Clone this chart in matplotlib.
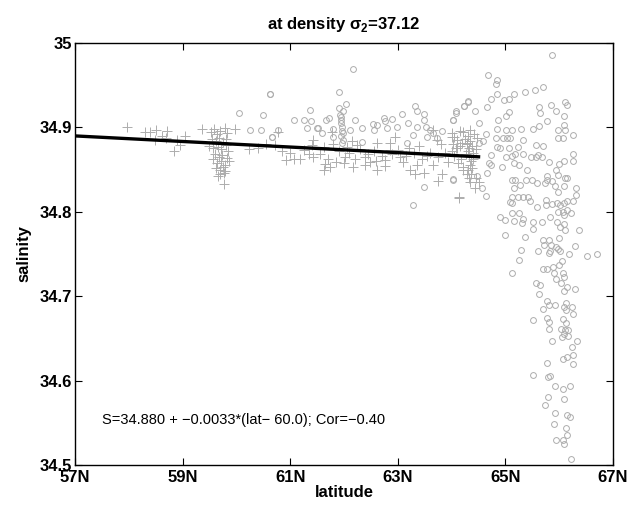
import numpy as np
import matplotlib.pyplot as plt

plt.rcParams['font.family'] = ['Liberation Sans', 'DejaVu Sans']
plt.rcParams['mathtext.fontset'] = 'custom'
plt.rcParams['mathtext.rm'] = 'Liberation Sans'
plt.rcParams['mathtext.bf'] = 'Liberation Sans:bold'

# '+' samples (south of the front)
plus_lat = [
    57.96, 58.30, 58.39, 58.51, 58.72, 58.61, 58.49, 58.69, 58.89, 59.04, 58.85, 58.95,
    59.37, 59.97, 60.24, 60.72, 59.77,
    59.52, 59.58, 59.64, 59.70, 59.78, 59.83, 59.55, 59.62, 59.68, 59.75, 59.81, 59.50,
    59.57, 59.65, 59.72, 59.80, 59.85, 59.60, 59.67, 59.74, 59.82, 59.56, 59.64, 59.71,
    59.78, 59.86, 59.62, 59.69, 59.75, 59.70, 59.77, 59.66, 59.79,
    60.78, 61.43, 61.40, 60.93, 61.07, 61.18, 61.43, 61.62, 61.77, 61.80, 61.65, 61.74,
    61.62, 61.86, 62.02, 62.17, 62.05, 62.24, 62.39, 62.39, 62.48, 62.61, 62.62, 62.76,
    62.76, 62.86, 62.95, 63.04, 63.10, 63.21, 63.23, 63.32, 63.35, 63.48, 63.54, 63.66,
    63.72, 63.75, 63.82, 63.94, 64.00, 64.10, 64.16, 64.14, 64.22, 64.28,
    61.00, 61.25, 61.55, 61.90, 62.10, 62.30, 62.45, 62.55, 62.70, 62.90, 63.00, 63.15,
    63.30, 63.45, 63.60, 63.75, 63.88, 62.00, 62.20, 62.60, 63.40, 63.65, 63.80, 62.85,
    62.15, 61.70, 61.35, 60.85, 60.55, 60.40,
    64.00, 64.05, 64.10, 64.02, 64.08, 64.15, 64.20, 64.25, 64.30, 64.35, 64.38, 64.30,
    64.33, 64.36, 64.40, 64.45, 64.28, 64.32, 64.34, 64.30, 64.36, 64.32, 64.34, 64.29,
    64.38, 64.40, 64.12, 64.05, 64.18, 64.22, 64.45, 64.50, 64.43, 64.14, 64.00, 64.26,
    64.41, 64.48, 64.22, 64.35,
]
plus_sal = [
    34.901, 34.895, 34.894, 34.897, 34.896, 34.890, 34.885, 34.888, 34.885, 34.890, 34.872, 34.879,
    34.898, 34.898, 34.874, 34.879, 34.833,
    34.895, 34.898, 34.892, 34.896, 34.899, 34.893, 34.886, 34.884, 34.887, 34.883, 34.886, 34.878,
    34.875, 34.877, 34.874, 34.879, 34.872, 34.868, 34.865, 34.867, 34.864, 34.862, 34.858, 34.860,
    34.856, 34.860, 34.852, 34.850, 34.853, 34.845, 34.846, 34.842, 34.848,
    34.895, 34.885, 34.879, 34.861, 34.862, 34.862, 34.865, 34.877, 34.895, 34.880, 34.857, 34.853,
    34.850, 34.859, 34.865, 34.853, 34.877, 34.879, 34.865, 34.855, 34.859, 34.881, 34.850, 34.861,
    34.854, 34.873, 34.889, 34.865, 34.859, 34.875, 34.850, 34.845, 34.855, 34.846, 34.866, 34.897,
    34.885, 34.836, 34.845, 34.859, 34.889, 34.875, 34.896, 34.816, 34.853, 34.881,
    34.870, 34.873, 34.868, 34.872, 34.870, 34.874, 34.868, 34.872, 34.866, 34.868, 34.873, 34.866,
    34.870, 34.862, 34.870, 34.865, 34.870, 34.858, 34.862, 34.860, 34.878, 34.855, 34.880, 34.882,
    34.884, 34.862, 34.868, 34.872, 34.880, 34.876,
    34.893, 34.889, 34.885, 34.880, 34.875, 34.878, 34.882, 34.886, 34.890, 34.884, 34.878, 34.872,
    34.866, 34.860, 34.870, 34.874, 34.880, 34.876, 34.855, 34.850, 34.845, 34.840, 34.835, 34.845,
    34.852, 34.862, 34.858, 34.866, 34.862, 34.850, 34.840, 34.835, 34.828, 34.818, 34.872, 34.868,
    34.892, 34.888, 34.895, 34.897,
]

# 'o' samples
circ_lat = [
    60.62, 60.04, 60.49, 60.25, 60.46, 60.67, 60.77,
    60.63, 62.16, 61.91, 62.04, 61.36, 61.91, 61.99, 61.07, 61.26, 61.39, 61.67, 61.72,
    61.94, 62.21, 61.31, 61.49, 61.52, 61.60, 61.79, 61.96, 61.98, 61.99, 62.12, 62.33,
    62.53, 62.61, 62.55, 62.74, 62.76, 62.79, 62.90, 62.99, 63.07, 63.18, 63.32, 63.35,
    63.49, 63.49, 63.36, 63.52, 63.59, 63.66, 63.72, 63.82, 64.02, 64.08, 64.23, 64.31,
    60.67, 61.80, 62.33, 63.29, 63.49, 63.28, 64.02, 63.17, 63.54,
    61.93, 61.95, 61.94, 61.96, 61.95, 61.97,
    65.86, 64.67, 64.84, 64.82, 64.84, 64.74, 64.97, 65.07, 65.16, 65.36, 65.55, 65.69,
    64.30, 64.23, 64.09, 64.44, 64.02, 64.65, 65.07, 65.01, 64.86, 64.50, 64.64, 64.84,
    65.01, 65.12, 65.28, 64.96, 65.02, 65.09, 64.83, 64.58, 64.50, 65.51, 65.63, 65.77,
    65.84, 65.62, 65.65, 65.94, 66.11, 66.14, 66.08, 66.08, 65.97, 66.11, 65.98, 66.06,
    66.25, 65.32, 64.84, 64.90, 65.07, 65.24, 65.32, 65.18, 65.13, 65.01, 64.74, 64.70,
    64.74, 64.93, 65.16, 65.26, 65.40, 65.47, 65.57, 65.61, 65.70, 65.67, 65.57, 65.80,
    66.00, 66.08, 66.25, 66.25, 65.94, 65.98, 66.11, 66.15, 65.77, 65.77, 65.12, 65.18,
    65.15, 65.27, 65.38, 65.49, 65.59, 65.74, 65.86, 65.92, 65.97, 66.08, 66.31, 66.31,
    66.25, 66.15, 66.08, 66.01, 65.95, 65.86, 65.75, 65.75, 65.41, 65.32, 65.24, 65.13,
    65.09, 65.13, 65.46, 64.64, 64.56, 64.48, 64.66, 64.02, 65.58, 65.98, 66.06, 66.14,
    66.21, 66.08, 64.90, 64.99, 65.12, 65.26, 65.32, 65.30, 65.16, 65.52, 65.67, 65.83,
    65.95, 66.08,
    64.99, 65.36, 65.51, 65.28, 65.61, 65.26, 65.12, 65.70, 65.80, 65.72, 65.84, 65.80,
    65.82, 65.94, 66.01, 65.97, 66.18, 66.30, 66.52, 66.36, 66.11, 66.01, 65.99, 66.05,
    66.00, 65.89, 65.69, 65.78, 65.90, 66.06, 66.08, 65.93, 66.03, 66.14, 66.08, 66.29,
    65.57, 65.64, 65.63, 65.77, 65.69, 65.80, 65.92, 66.13, 66.08, 66.13, 66.23, 66.25,
    65.52, 65.77, 65.80, 65.80, 66.06, 66.13, 66.03, 66.11, 66.17, 66.08, 66.05, 66.17,
    65.87, 66.32, 66.24, 66.25, 66.06, 66.14, 66.25, 65.78, 65.52, 65.79, 65.83, 65.92,
    66.06, 66.20, 65.79, 65.74, 66.08, 65.92, 66.14, 66.20, 65.90, 66.13, 66.14, 65.94,
    66.06, 66.08, 66.21, 66.70,
]
circ_sal = [
    34.939, 34.917, 34.915, 34.897, 34.897, 34.889, 34.897,
    34.939, 34.969, 34.942, 34.928, 34.921, 34.923, 34.919, 34.909, 34.909, 34.907, 34.909, 34.911,
    34.909, 34.909, 34.899, 34.899, 34.899, 34.893, 34.898, 34.901, 34.893, 34.885, 34.897, 34.899,
    34.904, 34.903, 34.897, 34.911, 34.907, 34.899, 34.910, 34.900, 34.916, 34.905, 34.925, 34.920,
    34.916, 34.909, 34.900, 34.901, 34.897, 34.893, 34.887, 34.896, 34.909, 34.919, 34.925, 34.931,
    34.889, 34.889, 34.883, 34.891, 34.829, 34.808, 34.839, 34.881, 34.889,
    34.915, 34.912, 34.905, 34.896, 34.890, 34.882,
    34.986, 34.962, 34.956, 34.952, 34.940, 34.934, 34.932, 34.934, 34.939, 34.942, 34.944, 34.948,
    34.930, 34.925, 34.917, 34.919, 34.909, 34.924, 34.918, 34.913, 34.909, 34.905, 34.892, 34.898,
    34.897, 34.897, 34.898, 34.888, 34.888, 34.888, 34.888, 34.884, 34.881, 34.898, 34.902, 34.907,
    34.926, 34.924, 34.917, 34.919, 34.930, 34.926, 34.914, 34.903, 34.897, 34.897, 34.887, 34.887,
    34.891, 34.885, 34.877, 34.875, 34.876, 34.877, 34.869, 34.869, 34.866, 34.865, 34.867, 34.858,
    34.855, 34.853, 34.858, 34.855, 34.850, 34.865, 34.879, 34.867, 34.878, 34.865, 34.865, 34.859,
    34.857, 34.860, 34.869, 34.860, 34.850, 34.844, 34.840, 34.840, 34.842, 34.838, 34.838, 34.838,
    34.828, 34.832, 34.838, 34.838, 34.834, 34.834, 34.836, 34.830, 34.823, 34.830, 34.828, 34.820,
    34.813, 34.813, 34.810, 34.808, 34.810, 34.809, 34.814, 34.808, 34.818, 34.818, 34.818, 34.818,
    34.812, 34.810, 34.813, 34.819, 34.828, 34.842, 34.846, 34.838, 34.806, 34.800, 34.800, 34.802,
    34.798, 34.796, 34.794, 34.790, 34.799, 34.799, 34.792, 34.787, 34.789, 34.788, 34.788, 34.794,
    34.788, 34.786,
    34.772, 34.770, 34.780, 34.755, 34.754, 34.743, 34.728, 34.767, 34.767, 34.761, 34.761, 34.751,
    34.754, 34.758, 34.754, 34.756, 34.750, 34.759, 34.748, 34.778, 34.778, 34.782, 34.769, 34.742,
    34.737, 34.735, 34.732, 34.732, 34.728, 34.728, 34.723, 34.720, 34.715, 34.711, 34.706, 34.709,
    34.716, 34.713, 34.703, 34.694, 34.685, 34.690, 34.690, 34.692, 34.687, 34.684, 34.687, 34.679,
    34.672, 34.674, 34.669, 34.661, 34.673, 34.668, 34.661, 34.660, 34.660, 34.655, 34.652, 34.653,
    34.647, 34.647, 34.640, 34.630, 34.626, 34.628, 34.620, 34.621, 34.606, 34.604, 34.605, 34.594,
    34.590, 34.593, 34.580, 34.571, 34.578, 34.561, 34.559, 34.557, 34.549, 34.544, 34.535, 34.529,
    34.530, 34.525, 34.507, 34.750,
]

# regression S = s0 + slope*(lat - lat0), fitted up to lat_end
s0, slope, lat0 = 34.880, -0.0033, 60.0
lat_start, lat_end = 57.0, 64.5
cor = -0.40

grey = (0.68, 0.68, 0.68)

fig = plt.figure(figsize=(6.4, 5.12), dpi=100)
ax = fig.add_axes([0.117, 0.092, 0.841, 0.824])

ax.plot(plus_lat, plus_sal, '+', color=grey, markersize=6.5, markeredgewidth=0.7)
ax.plot(circ_lat, circ_sal, 'o', color=grey, markerfacecolor='none', markersize=4.2, markeredgewidth=0.7)

fit_lat = np.array([lat_start, lat_end])
ax.plot(fit_lat, s0 + slope * (fit_lat - lat0), color='black', linewidth=2.4)

ax.text(57.5, 34.553, 'S=%.3f + \u2212%.4f*(lat\u2212 %.1f); Cor=\u2212%.2f' % (s0, -slope, lat0, -cor),
        fontsize=10.5, va='center', ha='left')

ax.set_xlim(57, 67)
ax.set_ylim(34.5, 35)
xt = [57, 59, 61, 63, 65, 67]
ax.set_xticks(xt)
ax.set_xticklabels(['%dN' % v for v in xt], fontsize=12, fontweight='bold')
yt = [34.5, 34.6, 34.7, 34.8, 34.9, 35.0]
ax.set_yticks(yt)
ax.set_yticklabels(['%g' % v for v in yt], fontsize=12, fontweight='bold')
ax.tick_params(direction='in', length=5, width=0.8, top=True, right=True, pad=2)
ax.tick_params(axis='x', pad=4)
for s in ax.spines.values():
    s.set_linewidth(1.0)

ax.set_xlabel('latitude', fontsize=12, fontweight='bold', labelpad=0)
ax.set_ylabel('salinity', fontsize=12, fontweight='bold', labelpad=6)
ax.set_title('at density \u03c3$_\\mathbf{2}$=37.12', fontsize=12, fontweight='bold', pad=10)

fig.savefig('out.png', dpi=100)
